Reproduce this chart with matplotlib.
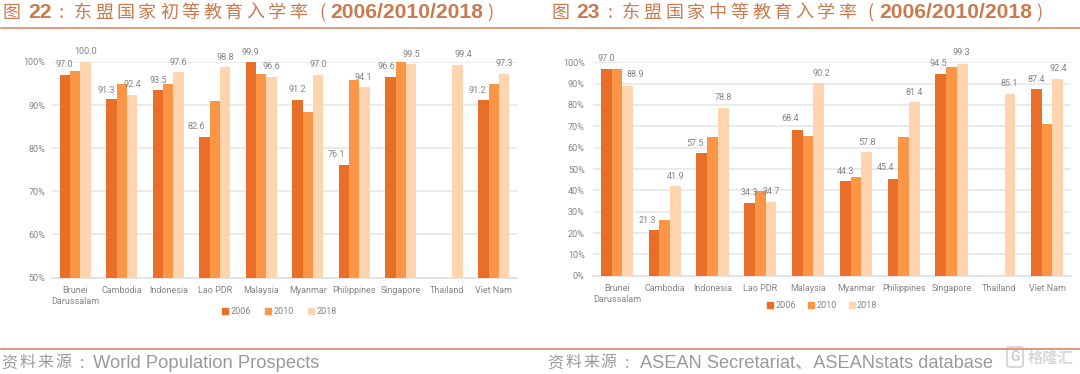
import numpy as np
import matplotlib
matplotlib.use("Agg")
import matplotlib.pyplot as plt
from matplotlib.patches import Patch, FancyBboxPatch

plt.rcParams["font.family"] = ["Roboto", "Noto Sans CJK SC", "DejaVu Sans"]

countries = ["Brunei\nDarussalam", "Cambodia", "Indonesia", "Lao PDR", "Malaysia",
             "Myanmar", "Philippines", "Singapore", "Thailand", "Viet Nam"]
years = ["2006", "2010", "2018"]

primary_2006 = [97.0, 91.3, 93.5, 82.6, 99.9, 91.2, 76.1, 96.6, np.nan, 91.2]
primary_2010 = [98.0, 94.8, 94.8, 91.0, 97.2, 88.5, 95.9, 100.0, np.nan, 94.8]
primary_2018 = [100.0, 92.4, 97.6, 98.8, 96.6, 97.0, 94.1, 99.5, 99.4, 97.3]
primary_ticks = [50, 60, 70, 80, 90, 100]

secondary_2006 = [97.0, 21.3, 57.5, 34.3, 68.4, 44.3, 45.4, 94.5, np.nan, 87.4]
secondary_2010 = [97.0, 26.0, 65.0, 39.5, 65.3, 46.3, 65.0, 98.0, np.nan, 71.0]
secondary_2018 = [88.9, 41.9, 78.8, 34.7, 90.2, 57.8, 81.4, 99.3, 85.1, 92.4]
secondary_ticks = [0, 10, 20, 30, 40, 50, 60, 70, 80, 90, 100]

colors = ["#E86F28", "#FA9645", "#FFD4AE"]
grey = "#858585"
title_color = "#CB7A50"
W, H = 1080, 374

fig = plt.figure(figsize=(W / 100, H / 100), dpi=100)


def axes_px(x0, x1, y_top, y_bottom):
    return fig.add_axes([x0 / W, 1 - y_bottom / H, (x1 - x0) / W, (y_bottom - y_top) / H])


def txt(x, y, s, **kw):
    fig.text(x / W, 1 - y / H, s, va="center", **kw)


def spaced(x, y, s, step, **kw):
    # 标题字距比较宽,逐字放
    for i, ch in enumerate(s):
        txt(x + i * step, y, ch, ha="center", **kw)


def draw_chart(ax, series, ticks, ylim, lab_2006, lab_2018, legend_x, legend_y, ypad, colgap):
    x = np.arange(len(countries))
    w = 0.225
    for i, vals in enumerate(series):
        ax.bar(x + (i - 1) * w, vals, w, color=colors[i], linewidth=0, zorder=3)
    ax.set_xlim(-0.5, len(countries) - 0.5)
    ax.set_ylim(*ylim)
    ax.set_yticks(ticks)
    ax.set_yticklabels([f"{t}%" for t in ticks])
    ax.set_xticks(x)
    ax.set_xticklabels(countries, linespacing=1.25)
    ax.tick_params(axis="both", length=0, labelsize=6.5, labelcolor=grey)
    ax.tick_params(axis="x", pad=6)
    ax.tick_params(axis="y", pad=ypad)
    ax.grid(axis="y", color="#E6E6E6", linewidth=1.1, zorder=0)
    for name in ["top", "left", "right"]:
        ax.spines[name].set_visible(False)
    ax.spines["bottom"].set_color("#DEDEDE")
    ax.spines["bottom"].set_linewidth(1.1)
    for i in range(len(countries)):
        if not np.isnan(series[0][i]):
            ax.annotate(f"{series[0][i]:.1f}", (i - w, series[0][i]), xytext=lab_2006[i],
                        textcoords="offset pixels", ha="center", va="center",
                        fontsize=6.5, color=grey, zorder=5, annotation_clip=False)
        ax.annotate(f"{series[2][i]:.1f}", (i + w, series[2][i]), xytext=lab_2018[i],
                    textcoords="offset pixels", ha="center", va="center",
                    fontsize=6.5, color=grey, zorder=5, annotation_clip=False)
    handles = [Patch(color=c, label=y) for c, y in zip(colors, years)]
    fig.legend(handles=handles, loc="center", bbox_to_anchor=(legend_x / W, 1 - legend_y / H),
               ncol=3, frameon=False, fontsize=6.5, labelcolor=grey, handlelength=0.68,
               handleheight=0.68, handletextpad=0.25, columnspacing=colgap)


# 左图
ax1 = axes_px(52, 517, 62, 277.5)
off1_2006 = [(0, 10), (-5, 9), (0, 10), (-8, 10), (0, 10), (0, 10), (-7, 11), (-4, 10), (0, 0), (-6, 9)]
off1_2018 = [(0, 10), (0, 10), (0, 10), (0, 10), (0, 10), (0, 10), (-1, 10), (0, 10), (6, 10), (0, 10)]
draw_chart(ax1, [primary_2006, primary_2010, primary_2018], primary_ticks, (50, 100),
           off1_2006, off1_2018, 279.5, 312, 5, 1.55)

# 右图
ax2 = axes_px(593, 1071, 62.3, 275.8)
off2_2006 = [(0, 10), (-7, 10), (-7, 10), (0, 10), (-7, 11), (0, 10), (-7, 11), (-2, 11), (0, 0), (0, 10)]
off2_2018 = [(8, 11), (0, 10), (0, 10), (0, 10), (3, 10), (0, 10), (0, 10), (-1, 11), (-1, 11), (0, 10)]
draw_chart(ax2, [secondary_2006, secondary_2010, secondary_2018], secondary_ticks, (0, 100),
           off2_2006, off2_2018, 822, 306, 6, 1.33)

# 标题
title_kw = dict(color=title_color, fontsize=13)
bold_kw = dict(color=title_color, fontsize=15.2, fontweight="bold", family="Liberation Sans")
cjk = ["Noto Sans CJK SC", "DejaVu Sans"]
txt(11.5, 13, "图", ha="center", family=cjk, **title_kw)
txt(28, 13, "22", ha="left", **bold_kw)
txt(61, 13, ":", ha="center", family=cjk, **title_kw)
spaced(82.6, 13, "东盟国家初等教育入学率", 21.6, family=cjk, **title_kw)
txt(322, 13, "(", ha="center", family=cjk, **title_kw)
txt(330.5, 13, "2006/2010/2018", ha="left", **bold_kw)
txt(490, 13, ")", ha="center", family=cjk, **title_kw)

txt(560.5, 13, "图", ha="center", family=cjk, **title_kw)
txt(576, 13, "23", ha="left", **bold_kw)
txt(610.5, 13, ":", ha="center", family=cjk, **title_kw)
spaced(631, 13, "东盟国家中等教育入学率", 21.65, family=cjk, **title_kw)
txt(870.5, 13, "(", ha="center", family=cjk, **title_kw)
txt(879, 13, "2006/2010/2018", ha="left", **bold_kw)
txt(1039, 13, ")", ha="center", family=cjk, **title_kw)

# 分隔线
fig.add_artist(plt.Line2D([1 / W, 1], [1 - 28.3 / H] * 2, color="#DD8058", linewidth=1.1))
fig.add_artist(plt.Line2D([1 / W, 1], [1 - 349 / H] * 2, color="#D67C5C", linewidth=1.1))

# 资料来源
src_kw = dict(color="#9A9A9A", fontsize=11.5)
src_en = dict(color="#9A9A9A", fontsize=13.2, family="Liberation Sans")
spaced(9, 363, "资料来源:", 18.3, family=cjk, **src_kw)
txt(93, 363, "World Population Prospects", ha="left", **src_en)
spaced(555.5, 363, "资料来源:", 17.8, family=cjk, **src_kw)
txt(640, 363, "ASEAN Secretariat、ASEANstats database", ha="left",
    family=["Liberation Sans", "Noto Sans CJK SC"], color="#9A9A9A", fontsize=13.15)

# 水印
fig.add_artist(FancyBboxPatch((1007 / W, 1 - 367 / H), 16 / W, 20 / H, transform=fig.transFigure,
                              boxstyle="round,pad=0,rounding_size=0.004", facecolor="none",
                              edgecolor="#D8D8D8", linewidth=1.5))
txt(1015, 357, "G", ha="center", color="#CFCFCF", fontsize=10, fontweight="bold")
txt(1028, 358, "格隆汇", ha="left", family=cjk, color="#D8D8D8", fontsize=11, fontweight="bold")

fig.savefig("out.png", dpi=100)
